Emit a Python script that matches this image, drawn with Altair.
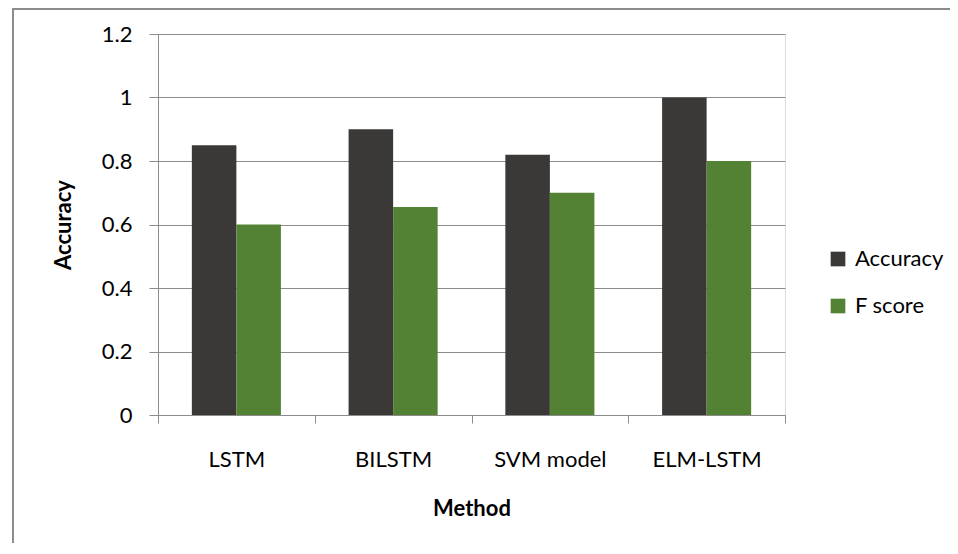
import altair as alt
import pandas as pd

methods = ["LSTM", "BILSTM", "SVM model", "ELM-LSTM"]
accuracy = [0.85, 0.90, 0.82, 1.00]
fscore = [0.60, 0.655, 0.70, 0.80]
series = ["Accuracy", "F score"]
colors = ["#3a3937", "#548235"]
y_ticks = [0, 0.2, 0.4, 0.6, 0.8, 1, 1.2]

rows = []
for m, a, f in zip(methods, accuracy, fscore):
    rows.append({"Method": m, "Series": series[0], "Value": a})
    rows.append({"Method": m, "Series": series[1], "Value": f})
df = pd.DataFrame(rows)

FONT = "Lato"
GRID = "#8c8c8c"
FS = 22

bars = alt.Chart(df).mark_bar().encode(
    x=alt.X("Method:N", sort=methods,
            scale=alt.Scale(paddingInner=0, paddingOuter=0),
            axis=alt.Axis(title="Method", labelAngle=0, tickBand="extent",
                          tickSize=8, tickColor=GRID, domainColor=GRID,
                          labelFontSize=FS, labelPadding=26, labelColor="#000",
                          titleFontSize=FS, titleFontWeight="bold",
                          titlePadding=28, titleColor="#000",
                          labelFont=FONT, titleFont=FONT)),
    xOffset=alt.XOffset("Series:N", sort=series,
                        scale=alt.Scale(paddingInner=0, paddingOuter=0.76)),
    y=alt.Y("Value:Q", scale=alt.Scale(domain=[0, 1.2]),
            axis=alt.Axis(title="Accuracy", values=y_ticks, format="~g",
                          grid=True, gridColor=GRID, tickColor=GRID,
                          domainColor=GRID, tickSize=9,
                          labelFontSize=FS, labelPadding=17, labelColor="#000",
                          titleFontSize=FS, titleFontWeight="bold",
                          titlePadding=26, titleColor="#000",
                          labelFont=FONT, titleFont=FONT)),
    color=alt.Color("Series:N", sort=series,
                    scale=alt.Scale(domain=series, range=colors),
                    legend=alt.Legend(title=None, orient="none",
                                      legendX=669, legendY=214,
                                      symbolType="square", symbolSize=215,
                                      symbolStrokeWidth=0,
                                      labelFontSize=FS, labelFont=FONT,
                                      labelColor="#000", rowPadding=25,
                                      labelOffset=6)),
)

border = alt.Chart(pd.DataFrame({"k": [0]})).mark_rect(
    fill=None, stroke="#8c8c8c", strokeWidth=2
).encode(
    x=alt.value(-145), x2=alt.value(820),
    y=alt.value(-25), y2=alt.value(600),
)

chart = alt.layer(border, bars).properties(
    width=627, height=381,
    autosize=alt.AutoSizeParams(type="none"),
    padding={"left": 150, "top": 26, "right": 165, "bottom": 128},
).configure_view(stroke=None).configure(background="white")

chart.save("out.html", embed_options={"renderer": "svg", "actions": False})
